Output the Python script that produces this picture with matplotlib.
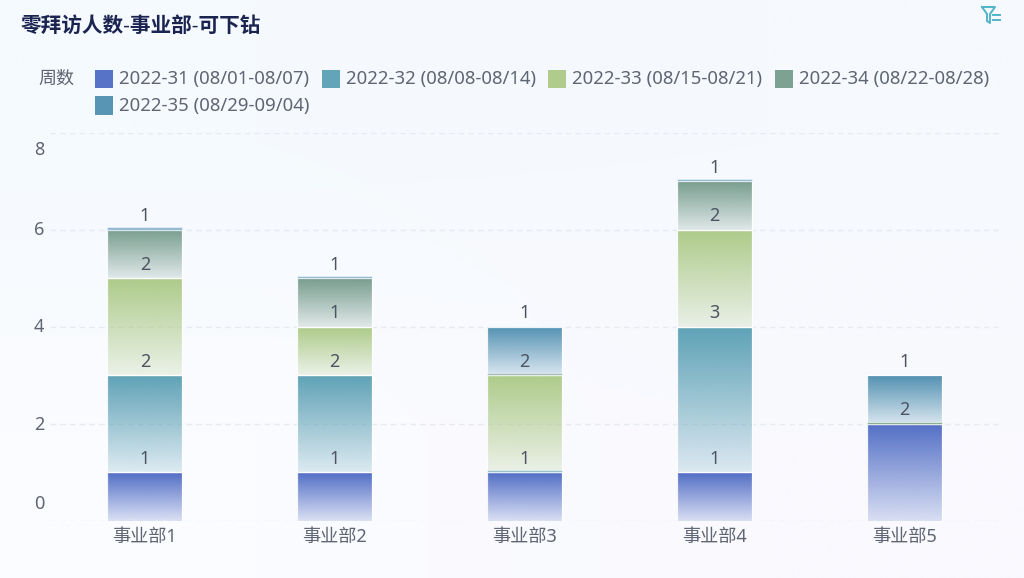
import numpy as np
import matplotlib
matplotlib.use("Agg")
import matplotlib.pyplot as plt
from matplotlib.colors import to_rgb
from matplotlib.lines import Line2D
from matplotlib.patches import Rectangle
from matplotlib.transforms import ScaledTranslation

plt.rcParams['font.family'] = ['Noto Sans', 'Noto Sans CJK SC', 'DejaVu Sans']

title = "零拜访人数-事业部-可下钻"
legend_title = "周数"
categories = ["事业部1", "事业部2", "事业部3", "事业部4", "事业部5"]
series_names = ["2022-31 (08/01-08/07)", "2022-32 (08/08-08/14)", "2022-33 (08/15-08/21)",
                "2022-34 (08/22-08/28)", "2022-35 (08/29-09/04)"]
week31 = [1, 1, 1, 1, 2]
week32 = [2, 2, 0, 3, 0]
week33 = [2, 1, 2, 2, 0]
week34 = [1, 1, 0, 1, 0]
week35 = [0, 0, 1, 0, 1]
series_values = [week31, week32, week33, week34, week35]
series_colors = ["#5470C6", "#5FA2B7", "#AECB8A", "#7B9F90", "#5593B3"]
y_ticks = [0, 2, 4, 6, 8]
y_tick_shift_px = [19, 1, 2, 1.5, -15.5]

W, H = 1024, 578
fig = plt.figure(figsize=(W / 100, H / 100), dpi=100)
TXT = "#5F6573"


def fx(x):
    return x / W


def fy(y):
    return 1 - y / H


# page background
bg = fig.add_axes([0, 0, 1, 1], zorder=-5)
bg.axis("off")
corners = np.array([[to_rgb("#F5FAFE"), to_rgb("#F6F9FD")],
                    [to_rgb("#FBFCFF"), to_rgb("#F9F9FE")]])
bg.imshow(corners, aspect="auto", interpolation="bilinear", extent=(0, 1, 0, 1), origin="upper")

# plot area: x 50-999 px, y 132.5-521 px
ax = fig.add_axes([fx(50), fy(521), fx(949), (521 - 132.5) / H])
ax.patch.set_alpha(0)
for s in ax.spines.values():
    s.set_visible(False)

x = np.arange(len(categories))
bar_w = 0.395
stub = 2.2 / 48.6
inset = 1.0 / 48.6
xlim = (-0.5, 4.5)
ylim = (0, 8)


def gradient(x0, x1, y0, y1, color):
    n = 64
    img = np.zeros((n, 1, 4))
    img[..., :3] = to_rgb(color)
    img[..., 3] = np.linspace(1.0, 0.2, n)[:, None]
    ax.imshow(img, aspect="auto", extent=(x0, x1, y0, y1 - inset), origin="upper",
              interpolation="bilinear", zorder=3)
    ax.add_patch(Rectangle((x0, y0), x1 - x0, y1 - y0, fill=False, ec="white",
                           lw=0.9, alpha=0.9, zorder=4))


base = np.zeros(len(categories))
for vals, col in zip(series_values, series_colors):
    for i, v in enumerate(vals):
        x0, x1 = x[i] - bar_w / 2, x[i] + bar_w / 2
        if v > 0:
            gradient(x0, x1, base[i], base[i] + v, col)
            ax.annotate(str(v), xy=(x[i], base[i] + v), xytext=(0, 13.5), textcoords="offset pixels",
                        ha="center", va="center", fontsize=13, color="#4D5362", zorder=6)
        else:
            ax.add_patch(Rectangle((x0, base[i]), bar_w, stub, fc=col, ec="white", lw=0.5,
                                   alpha=0.6, zorder=5))
    base += np.array(vals)

ax.set_xlim(*xlim)
ax.set_ylim(*ylim)
ax.set_yticks(y_ticks)
ax.set_yticklabels([str(t) for t in y_ticks], fontsize=13, color=TXT)
ax.set_xticks(x)
ax.set_xticklabels(categories, fontsize=13.1, color=TXT)
ax.tick_params(axis="both", length=0)
ax.tick_params(axis="x", pad=5.2)
ax.tick_params(axis="y", pad=4)
ax.grid(axis="y", color="#E6EAF1", lw=1, ls=(0, (4, 3)), zorder=0)
ax.set_axisbelow(True)
for lab, dy in zip(ax.get_yticklabels(), y_tick_shift_px):
    lab.set_transform(lab.get_transform() + ScaledTranslation(0, dy / 100, fig.dpi_scale_trans))

# title
fig.text(fx(21), fy(26.5), title, fontsize=14.85, fontweight="bold", color="#1B2450", ha="left", va="center")

# legend
fig.text(fx(38), fy(79), legend_title, fontsize=13, color=TXT, ha="left", va="center")
slots = [(95, 79), (322, 79), (548, 79), (775, 79), (95, 105.5)]
for name, col, (sx, sy) in zip(series_names, series_colors, slots):
    fig.add_artist(Rectangle((fx(sx), fy(sy + 9)), 18 / W, 18 / H, transform=fig.transFigure,
                             fc=col, ec="none", alpha=0.98))
    fig.text(fx(sx + 24), fy(sy + 0.5), name, fontsize=13.35, color=TXT, ha="left", va="center")

# filter icon
ICON = "#52B4C9"
for xs, ys in [([982, 995, 990, 990, 987, 987, 982], [7, 7, 14, 23, 21, 14, 7]),
               ([993, 1000], [15, 15]), ([993, 1000], [20, 20])]:
    fig.add_artist(Line2D([fx(v) for v in xs], [fy(v) for v in ys], color=ICON, lw=1.4,
                          transform=fig.transFigure))

fig.savefig("out.png", dpi=100)
